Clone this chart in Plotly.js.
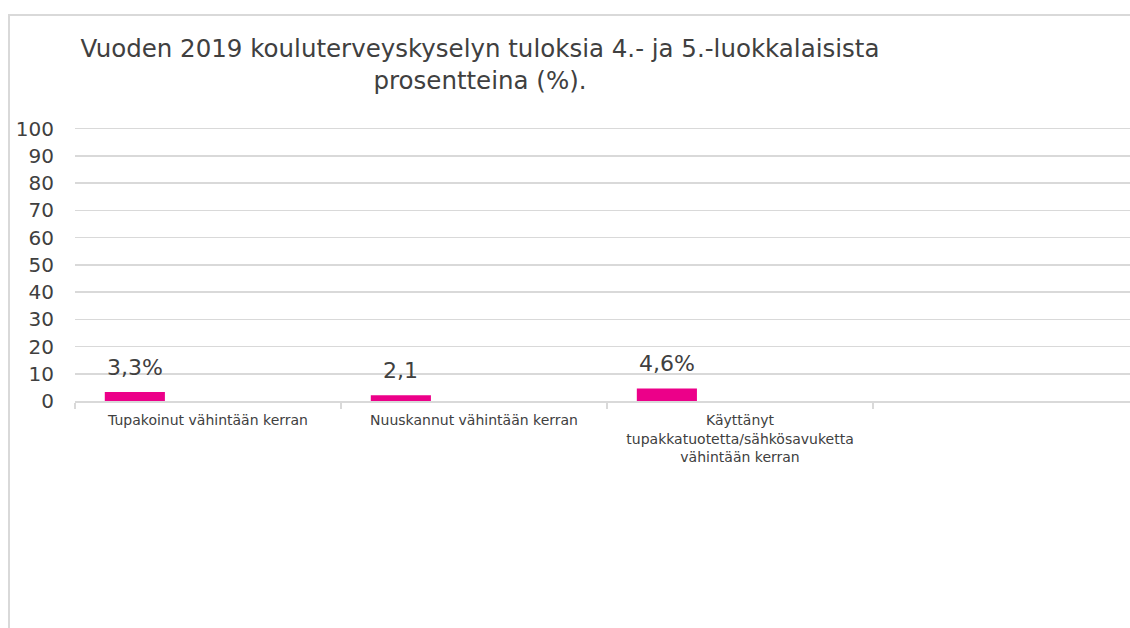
<!DOCTYPE html>
<html>
<head>
<meta charset="utf-8">
<script src="https://cdn.plot.ly/plotly-3.0.1.min.js"></script>
<style>
  html, body { margin: 0; padding: 0; background: #ffffff; overflow: hidden; }
  #frame { position: absolute; left: 8px; top: 14px; width: 1200px; height: 700px;
           border-left: 2px solid #d9d9d9; border-top: 2px solid #d9d9d9; }
  #chart { position: absolute; left: 0; top: 0; width: 1130px; height: 628px; }
</style>
</head>
<body>
<div id="frame"></div>
<div id="chart"></div>
<script>
const categories = [
  'Tupakoinut vähintään kerran',
  'Nuuskannut vähintään kerran',
  'Käyttänyt<br>tupakkatuotetta/sähkösavuketta<br>vähintään kerran',
  ' '
];
const values = [3.3, 2.1, 4.6, null];
const labels = ['3,3%', '2,1', '4,6%', ''];
const yTicks = [0, 10, 20, 30, 40, 50, 60, 70, 80, 90, 100];

const barOffset = -0.388;
const barWidth = 0.226;
const textColor = '#404040';
const fontFam = 'DejaVu Sans, Verdana, sans-serif';

const trace = {
  type: 'bar',
  x: categories,
  y: values,
  offset: barOffset,
  width: barWidth,
  marker: { color: '#ec0089', line: { width: 0 } },
  hoverinfo: 'none'
};

const annotations = [];
values.forEach((v, i) => {
  if (v === null) return;
  annotations.push({
    x: i + barOffset + barWidth / 2,
    y: v,
    xref: 'x', yref: 'y',
    text: labels[i],
    showarrow: false,
    yanchor: 'bottom',
    xanchor: 'center',
    yshift: 10,
    font: { family: fontFam, size: 22, color: textColor }
  });
});

const layout = {
  width: 1130,
  height: 628,
  margin: { l: 75, r: 0, t: 126, b: 227, pad: 0 },
  paper_bgcolor: 'rgba(0,0,0,0)',
  plot_bgcolor: 'rgba(0,0,0,0)',
  showlegend: false,
  title: {
    text: 'Vuoden 2019 kouluterveyskyselyn tuloksia 4.- ja 5.-luokkalaisista<br>prosentteina (%).',
    font: { family: fontFam, size: 24.5, color: textColor },
    xref: 'container', x: 480 / 1130, xanchor: 'center',
    yref: 'container', y: 1 - 57 / 628, yanchor: 'top',
    pad: { t: 0, b: 0, l: 0, r: 0 }
  },
  xaxis: {
    type: 'category',
    range: [-0.5, 3.466],
    tickson: 'boundaries',
    ticks: 'outside',
    ticklen: 6,
    tickcolor: '#d9d9d9',
    tickwidth: 1.5,
    showline: true,
    linecolor: '#d9d9d9',
    linewidth: 1.5,
    showgrid: false,
    tickangle: 0,
    ticklabelstandoff: 6,
    tickfont: { family: fontFam, size: 14, color: textColor },
    fixedrange: true
  },
  yaxis: {
    range: [0, 101],
    tickvals: yTicks,
    ticktext: yTicks.map(String),
    showgrid: true,
    gridcolor: '#d9d9d9',
    gridwidth: 1.5,
    zeroline: false,
    showline: false,
    ticks: '',
    ticklabelstandoff: 20,
    tickfont: { family: fontFam, size: 20, color: textColor },
    fixedrange: true
  },
  annotations: annotations
};

Plotly.newPlot('chart', [trace], layout, { displayModeBar: false, staticPlot: true });
</script>
</body>
</html>
